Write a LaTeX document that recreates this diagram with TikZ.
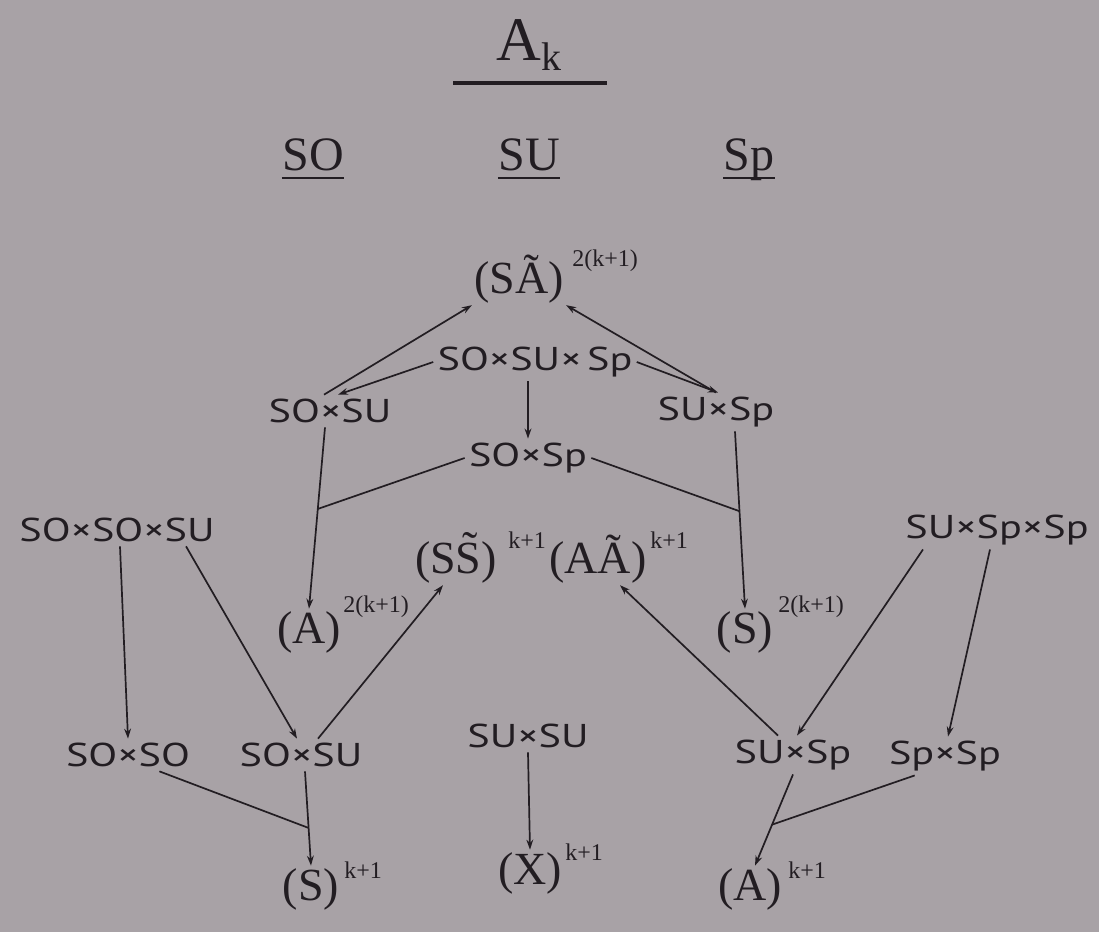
\documentclass[tikz,border=0pt]{standalone}
\usepackage{fontspec}
\setmainfont{Liberation Serif}
\newfontfamily\lblfont[FakeStretch=1.28]{PT Sans}
\usetikzlibrary{calc,arrows.meta}
\definecolor{bg}{RGB}{168,162,166}
\definecolor{ink}{RGB}{34,29,34}
\begin{document}
\begin{tikzpicture}[x=0.5pt,y=-0.5pt,
  lbl/.style={font=\lblfont\fontsize{16.5}{16.5}\selectfont, inner sep=2pt, text=ink},
  big/.style={font=\fontsize{23}{23}\selectfont, inner sep=1pt, text=ink, anchor=base},
  sup/.style={font=\fontsize{12}{12}\selectfont, inner sep=0pt, text=ink, anchor=base west},
  head/.style={font=\fontsize{24}{24}\selectfont, inner sep=0pt, text=ink, anchor=base},
  arr/.style={draw=ink, line width=0.85pt, -{Stealth[length=5pt,width=3.4pt]}},
  ln/.style={draw=ink, line width=0.85pt},
  rule/.style={draw=ink, line width=1.3pt}]
\fill[bg] (0,0) rectangle (1099,932);
\useasboundingbox (0,0) rectangle (1099,932);

% title
\node[anchor=base west, inner sep=0pt, text=ink] (ttl) at (496,60)
  {\fontsize{31}{31}\selectfont A\raisebox{-5pt}{\fontsize{20}{20}\selectfont k}};
\draw[draw=ink, line width=2pt] (453,83) -- (607,83);

% headings
\coordinate (ul) at (0,178);
\node[head] (hso) at (313,170) {SO};
\node[head] (hsu) at (529,170) {SU};
\node[head] (hsp) at (749,170) {Sp};
\draw[rule] (hso.west |- ul) -- (hso.east |- ul);
\draw[rule] (hsu.west |- ul) -- (hsu.east |- ul);
\draw[rule] (hsp.west |- ul) -- (hsp.east |- ul);

% big terms
\node[big] (SA) at (519,293) {(SÃ)};
\node[sup] (SAs) at (572,266) {2(k+1)};
\node[big] (SS) at (456,573) {(SS̃)};
\node[sup] (SSs) at (508,548) {k+1};
\node[big] (AA) at (598,573) {(AÃ)};
\node[sup] (AAs) at (650,548) {k+1};
\node[big] (A2) at (309,643) {(A)};
\node[sup] (A2s) at (343,612) {2(k+1)};
\node[big] (S2) at (745,643) {(S)};
\node[sup] (S2s) at (778,612) {2(k+1)};
\node[big] (S1) at (311,900) {(S)};
\node[sup] (S1s) at (344,878) {k+1};
\node[big] (X1) at (530,884) {(X)};
\node[sup] (X1s) at (565,860) {k+1};
\node[big] (A1) at (750,900) {(A)};
\node[sup] (A1s) at (788,878) {k+1};

% group labels
\node[lbl] (p3) at (535,362) {SO×SU×\,Sp};
\node[lbl] (ou1) at (330,411) {SO×SU};
\node[lbl] (up1) at (716,412) {SU×Sp};
\node[lbl] (op) at (528,458) {SO×Sp};
\node[lbl] (oou) at (117,530) {SO×SO×SU};
\node[lbl] (upp) at (997,530) {SU×Sp×Sp};
\node[lbl] (oo) at (128,755) {SO×SO};
\node[lbl] (ou2) at (301,755) {SO×SU};
\node[lbl] (uu) at (528,736) {SU×SU};
\node[lbl] (up2) at (793,755) {SU×Sp};
\node[lbl] (pp) at (945,756) {Sp×Sp};

% upper block
\draw[arr] ($(ou1.north)+(-6,0)$) -- (SA.south west);
\draw[arr] (up1.north) -- (SA.south east);
\draw[arr] (p3.west) -- ($(ou1.north)+(8,0)$);
\draw[arr] (p3.east) -- ($(up1.north)+(2,0)$);
\draw[arr] (p3.south -| op.north) -- (op.north);
\coordinate (f0) at ($(ou1.south)+(-5,0)$);
\draw[arr] (f0) -- (A2.north);
\coordinate (j1) at ($(f0)!0.45!(A2.north)$);
\draw[ln] (op.west) -- (j1);
\coordinate (g0) at ($(up1.south)+(19,0)$);
\draw[arr] (g0) -- (S2.north);
\coordinate (j2) at ($(g0)!0.45!(S2.north)$);
\draw[ln] (op.east) -- (j2);

% lower left
\draw[arr] ($(oou.south)+(3,0)$) -- (oo.north);
\draw[arr] ($(oou.south east)+(-33,0)$) -- ($(ou2.north)+(-4,0)$);
\draw[arr] ($(ou2.north)+(17,0)$) -- ($(SS.south)+(-13,0)$);
\coordinate (n0) at ($(ou2.south)+(4,0)$);
\draw[arr] (n0) -- (S1.north);
\coordinate (j3) at ($(n0)!0.6!(S1.north)$);
\draw[ln] ($(oo.south east)+(-35,0)$) -- (j3);

% middle
\draw[arr] (uu.south) -- (X1.north);

% lower right
\draw[arr] ($(up2.north)+(-15,0)$) -- ($(AA.south)+(22,0)$);
\draw[arr] ($(upp.south west)+(22,0)$) -- ($(up2.north)+(4,0)$);
\draw[arr] ($(upp.south)+(-7,0)$) -- ($(pp.north)+(3,0)$);
\coordinate (p0) at (up2.south);
\coordinate (p1) at ($(A1.north)+(5,0)$);
\draw[arr] (p0) -- (p1);
\coordinate (j4) at ($(p0)!0.55!(p1)$);
\draw[ln] ($(pp.south west)+(30,0)$) -- (j4);
\end{tikzpicture}
\end{document}
